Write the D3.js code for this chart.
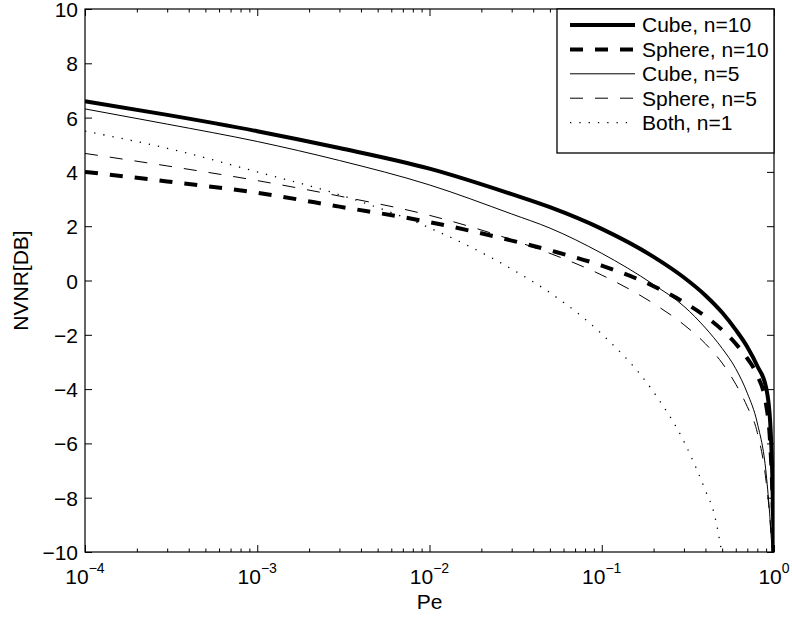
<!DOCTYPE html>
<html><head><meta charset="utf-8">
<script src="https://cdn.jsdelivr.net/npm/d3@7"></script>
<style>
html,body{margin:0;padding:0;background:#fff;}
svg{display:block;font-family:"Liberation Sans",Arial,Helvetica,sans-serif;}
</style></head><body>
<svg id="chart" width="792" height="618"></svg>
<script>
// Error probability grid shared by the n=10 and n=5 curves
const pe = [1e-4, 3e-4, 1e-3, 3e-3, 1e-2, 3e-2, 0.05, 0.1, 0.2, 0.3, 0.4, 0.5, 0.6, 0.7, 0.8, 0.9, 0.95, 0.98, 0.99, 0.999];
// NVNR [dB] per series (null = below the plotted range)
const cube10   = [6.6, 6.1, 5.5, 4.88, 4.12, 3.18, 2.7, 1.9, 0.87, 0.11, -0.55, -1.18, -1.82, -2.45, -3.15, -3.95, -5.2, -7.5, -9.0, -10.2];
const sphere10 = [4.0, 3.65, 3.23, 2.72, 2.15, 1.47, 1.11, 0.55, -0.21, -0.8, -1.32, -1.82, -2.33, -2.87, -3.5, -4.57, -6.0, -8.0, -9.2, -10.8];
const cube5    = [6.32, 5.76, 5.12, 4.42, 3.52, 2.45, 1.93, 1.0, -0.15, -0.95, -1.75, -2.5, -3.25, -4.15, -5.25, -7.1, -8.85, -10.2, null, null];
const sphere5  = [4.68, 4.22, 3.68, 3.11, 2.4, 1.5, 1.0, 0.2, -0.85, -1.63, -2.33, -3.04, -3.82, -4.65, -5.6, -7.4, -8.9, -10.3, null, null];
// n=1 curve (same for both shapes) on its own grid
const pe1   = [1e-4, 3e-4, 1e-3, 3e-3, 1e-2, 3e-2, 0.05, 0.1, 0.2, 0.3, 0.4, 0.45, 0.5];
const both1 = [5.5, 4.87, 4.0, 3.16, 1.94, 0.42, -0.45, -1.97, -4.11, -5.93, -7.74, -8.6, -10.1];

const seriesNames = ["Cube, n=10", "Sphere, n=10", "Cube, n=5", "Sphere, n=5", "Both, n=1"];
const xMajor = [1e-4, 1e-3, 1e-2, 1e-1, 1];
const xExponents = ["\u22124", "\u22123", "\u22122", "\u22121", "0"];
const yTicks = [-10, -8, -6, -4, -2, 0, 2, 4, 6, 8, 10];

const W = 792, H = 618;
const m = {l: 85, t: 9, r: 18, b: 66};
const FONT = 21;

const svg = d3.select("#chart");
svg.append("rect").attr("width", W).attr("height", H).attr("fill", "#fff");

const x = d3.scaleLog().domain([1e-4, 1]).range([m.l, W - m.r]);
const y = d3.scaleLinear().domain([-10, 10]).range([H - m.b, m.t]);

const xMinor = [];
xMajor.slice(0, -1).forEach(d => { for (let k = 2; k <= 9; k++) xMinor.push(d * k); });

function styleAxis(g) {
  g.select(".domain").remove();
  g.selectAll(".tick line").attr("stroke", "#000").attr("stroke-width", 1);
  g.selectAll(".tick text").attr("fill", "#000").attr("font-size", FONT)
    .attr("font-family", "Liberation Sans, Arial, sans-serif").attr("dy", "0.36em");
}

// bottom / top axes: major and minor ticks pointing inward
const bottomY = y(-10), topY = y(10);
[[d3.axisBottom, bottomY], [d3.axisTop, topY]].forEach(([ax, yy]) => {
  svg.append("g").attr("transform", `translate(0,${yy})`)
    .call(ax(x).tickValues(xMajor).tickSize(-7).tickSizeOuter(0).tickFormat(""))
    .call(styleAxis);
  svg.append("g").attr("transform", `translate(0,${yy})`)
    .call(ax(x).tickValues(xMinor).tickSize(-3.5).tickSizeOuter(0).tickFormat(""))
    .call(styleAxis);
});

// left / right axes
svg.append("g").attr("transform", `translate(${x(1e-4)},0)`)
  .call(d3.axisLeft(y).tickValues(yTicks).tickSize(-7).tickSizeOuter(0).tickPadding(7)
    .tickFormat(d => d < 0 ? "\u2212" + Math.abs(d) : String(d)))
  .call(styleAxis);
svg.append("g").attr("transform", `translate(${x(1)},0)`)
  .call(d3.axisRight(y).tickValues(yTicks).tickSize(-7).tickSizeOuter(0).tickFormat(""))
  .call(styleAxis);

// power-of-ten labels on the x axis
const xl = svg.append("g").attr("font-size", FONT).attr("fill", "#000");
xMajor.forEach((d, i) => {
  const t = xl.append("text").attr("x", x(d)).attr("y", bottomY + 32).attr("text-anchor", "middle");
  t.append("tspan").text("10");
  t.append("tspan").attr("dy", -11).attr("font-size", 14).text(xExponents[i]);
});

// axis titles
svg.append("text").attr("x", (x(1e-4) + x(1)) / 2).attr("y", 609)
  .attr("text-anchor", "middle").attr("font-size", FONT).text("Pe");
svg.append("text").attr("transform", `translate(28,${(y(10) + y(-10)) / 2}) rotate(-90)`)
  .attr("text-anchor", "middle").attr("font-size", FONT).text("NVNR[DB]");

// curves
svg.append("clipPath").attr("id", "plotclip").append("rect")
  .attr("x", x(1e-4)).attr("y", y(10)).attr("width", x(1) - x(1e-4)).attr("height", y(-10) - y(10));

const styles = [
  {w: 4, dash: null},
  {w: 4, dash: "13,12"},
  {w: 1, dash: null},
  {w: 1, dash: "13,12"},
  {w: 1.3, dash: "1.3,8"}
];
const series = [
  pe.map((p, i) => ({p, v: cube10[i]})),
  pe.map((p, i) => ({p, v: sphere10[i]})),
  pe.map((p, i) => ({p, v: cube5[i]})),
  pe.map((p, i) => ({p, v: sphere5[i]})),
  pe1.map((p, i) => ({p, v: both1[i]}))
];
const line = d3.line().defined(d => d.v !== null)
  .x(d => x(d.p)).y(d => y(d.v)).curve(d3.curveMonotoneX);

const gLines = svg.append("g").attr("clip-path", "url(#plotclip)");
series.forEach((s, i) => {
  gLines.append("path").datum(s).attr("d", line)
    .attr("fill", "none").attr("stroke", "#000")
    .attr("stroke-width", styles[i].w)
    .attr("stroke-dasharray", styles[i].dash)
    .attr("stroke-linejoin", "round");
});

// plot frame
svg.append("rect").attr("x", x(1e-4)).attr("y", y(10))
  .attr("width", x(1) - x(1e-4)).attr("height", y(-10) - y(10))
  .attr("fill", "none").attr("stroke", "#000").attr("stroke-width", 1.2);

// legend
const lg = svg.append("g");
const lgX0 = 557, lgY0 = y(10), lgW = x(1) - lgX0, lgH = 144;
lg.append("rect").attr("x", lgX0).attr("y", lgY0).attr("width", lgW).attr("height", lgH)
  .attr("fill", "#fff").attr("stroke", "#000").attr("stroke-width", 1.3);
seriesNames.forEach((name, i) => {
  const cy = lgY0 + 16 + i * 24.4;
  lg.append("line").attr("x1", 570).attr("x2", 635).attr("y1", cy).attr("y2", cy)
    .attr("stroke", "#000").attr("stroke-width", styles[i].w)
    .attr("stroke-dasharray", styles[i].dash);
  lg.append("text").attr("x", 642).attr("y", cy).attr("dy", "0.35em")
    .attr("font-size", FONT).attr("fill", "#000").text(name);
});
</script>
</body></html>
